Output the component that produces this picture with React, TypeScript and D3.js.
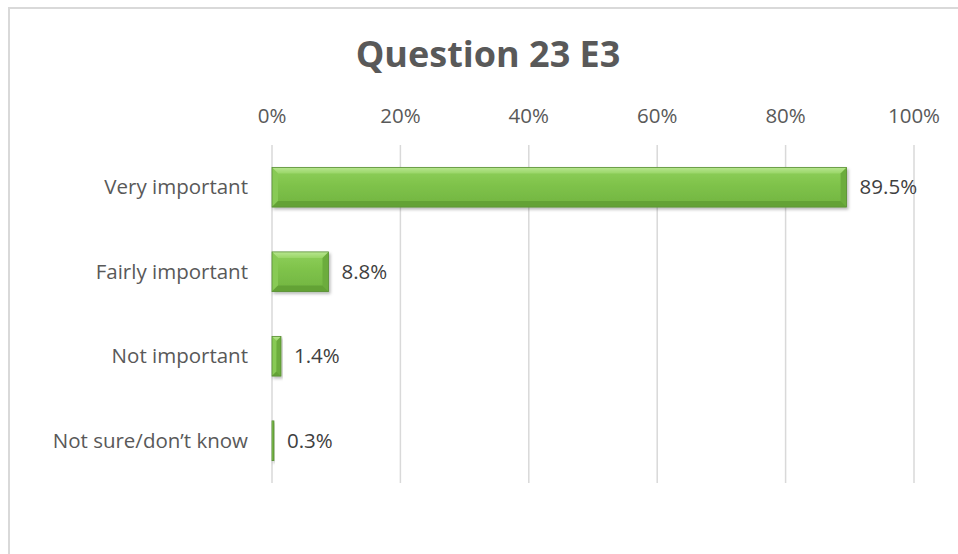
import React from "react";
import * as d3 from "d3";

const categories = ["Very important", "Fairly important", "Not important", "Not sure/don\u2019t know"];
const values = [89.5, 8.8, 1.4, 0.3];
const ticks = [0, 20, 40, 60, 80, 100];
const title = "Question 23 E3";

const W = 958;
const H = 554;
const FONT = "'Open Sans', 'Liberation Sans', sans-serif";

export default function App() {
  const x = d3.scaleLinear().domain([0, 100]).range([272, 914]);
  const y = d3.scaleBand<string>().domain(categories).range([145, 483]).paddingInner(0.53).paddingOuter(0.265);
  const bw = y.bandwidth();

  return (
    <svg width={W} height={H} style={{ position: "absolute", left: 0, top: 0, display: "block", background: "#fff" }}>
      <defs>
        <linearGradient id="barBody" x1="0" y1="0" x2="0" y2="1">
          <stop offset="0" stopColor="#8fd05a" />
          <stop offset="0.5" stopColor="#7dc149" />
          <stop offset="1" stopColor="#72b440" />
        </linearGradient>
        <linearGradient id="barTop" x1="0" y1="0" x2="0" y2="1">
          <stop offset="0" stopColor="#b8e690" />
          <stop offset="1" stopColor="#9ad668" />
        </linearGradient>
        <filter id="shadow" x="-10%" y="-30%" width="130%" height="180%">
          <feDropShadow dx="1.5" dy="2" stdDeviation="1.5" floodColor="#000" floodOpacity="0.28" />
        </filter>
      </defs>
      <rect x={9} y={8} width={W + 20} height={H + 20} fill="#fff" stroke="#d9d9d9" strokeWidth={2} />
      <text x={488} y={67} textAnchor="middle" fontFamily={FONT} fontWeight="bold" fontSize={36} fill="#595959">
        {title}
      </text>
      {ticks.map((t) => (
        <g key={t}>
          <line x1={x(t)} x2={x(t)} y1={145} y2={483} stroke="#d9d9d9" strokeWidth={1.5} />
          <text x={x(t)} y={123} textAnchor="middle" fontFamily={FONT} fontSize={20.5} fill="#595959">
            {t + "%"}
          </text>
        </g>
      ))}
      {categories.map((c, i) => {
        const x0 = x(0);
        const x1 = x(values[i]);
        const y0 = y(c)!;
        const y1 = y0 + bw;
        const w = x1 - x0;
        const b = Math.min(6, w / 2);
        return (
          <g key={c}>
            <g filter="url(#shadow)">
              <rect x={x0} y={y0} width={w} height={bw} fill="url(#barBody)" />
              <polygon points={`${x0},${y0} ${x1},${y0} ${x1 - b},${y0 + b} ${x0 + b},${y0 + b}`} fill="url(#barTop)" />
              <polygon points={`${x0},${y0} ${x0 + b},${y0 + b} ${x0 + b},${y1 - b} ${x0},${y1}`} fill="#88ca55" />
              <polygon points={`${x1},${y0} ${x1 - b},${y0 + b} ${x1 - b},${y1 - b} ${x1},${y1}`} fill="#6cac3d" />
              <polygon points={`${x0},${y1} ${x0 + b},${y1 - b} ${x1 - b},${y1 - b} ${x1},${y1}`} fill="#63a236" />
              <rect x={x0} y={y0} width={w} height={bw} fill="none" stroke="#5a8f35" strokeWidth={0.8} />
            </g>
            <text x={248} y={y0 + bw / 2} dy="0.35em" textAnchor="end" fontFamily={FONT} fontSize={20.5} fill="#595959">
              {c}
            </text>
            <text x={x1 + 13} y={y0 + bw / 2} dy="0.35em" fontFamily={FONT} fontSize={20.5} fill="#404040">
              {values[i].toFixed(1) + "%"}
            </text>
          </g>
        );
      })}
    </svg>
  );
}
